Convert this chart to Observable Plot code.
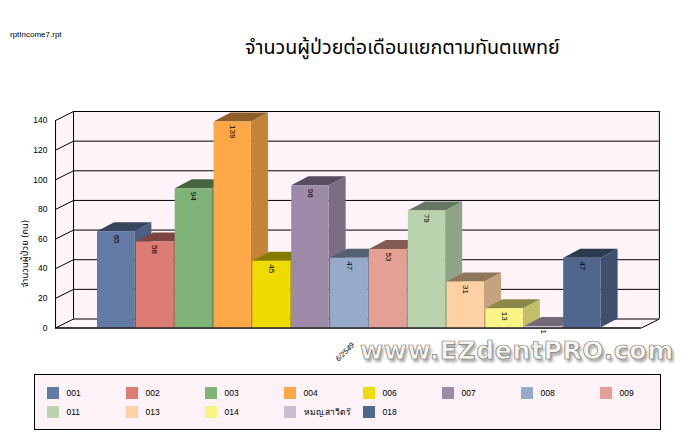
<!DOCTYPE html>
<html><head><meta charset="utf-8">
<script src="https://cdn.jsdelivr.net/npm/d3@7"></script>
<script src="https://cdn.jsdelivr.net/npm/@observablehq/plot@0.6"></script>
<style>
html,body{margin:0;padding:0;background:#fff;width:695px;height:448px;overflow:hidden;font-family:"Liberation Sans",Arial,sans-serif}
#head{position:relative;height:90px}
#file{position:absolute;left:10px;top:30px;font-size:8px;color:#000}
#title{position:absolute;left:245px;top:33px;width:316px;white-space:nowrap;font-size:19.7px;color:#000;font-family:"Noto Sans","Noto Sans Thai","DejaVu Sans",sans-serif}
#chart{height:280px}
#chart svg{display:block}
#mark{position:absolute;left:360px;top:336px;font:bold 25px "DejaVu Sans",sans-serif;letter-spacing:.65px;white-space:nowrap;color:#f6f5f0;-webkit-text-stroke:.7px #7d7d78;text-shadow:2px 3px 3px #a5a5a5}
#legend{box-sizing:border-box;margin:4px 0 0 34px;width:627px;height:56px;border:1px solid #000;background:#fdf2f8;padding:12px 0 0 11.5px;display:grid;grid-template-columns:repeat(8,79px);grid-auto-rows:19px;font-size:8.5px;color:#000}
#legend div{display:flex;align-items:center;height:12px}
#legend i{display:block;width:12px;height:12px;margin-right:8px;flex:none}
</style></head><body>
<div id="head"><div id="file">rptIncome7.rpt</div><div id="title">จำนวนผู้ป่วยต่อเดือนแยกตามทันตแพทย์</div></div>
<div id="chart"></div>
<div id="legend"></div>
<div id="mark">www.EZdentPRO.com</div>
<script>
const dentists = ["001","002","003","004","006","007","008","009","011","013","014","หมญ.สาวิตรี","018"];
const patients = [65,58,94,139,45,96,47,53,79,31,13,1,47];
const colors = ["#627aa6","#dc7c74","#7fb377","#fda847","#eedc00","#9c8aa8","#95abc9","#e5a095","#b8d3ae","#fdd1a3","#faf385","#c9bdd2","#4f678d"];
const yTicks = [0,20,40,60,80,100,120,140];
const monthLabel = "6/2549";
const yTitle = "จำนวนผู้ป่วย (คน)";

const wall = "#fdf3f8";
const barW = 0.96, dX = 0.44, dV = 6.07;
const xMin = -1.08, xMax = 14.0;
const shade = (c,k)=>{const r=d3.rgb(c);return d3.rgb(r.r*k,r.g*k,r.b*k).formatHex();};

const backX1 = xMin+0.463, backX2 = xMax+0.463, yMax = 140;
const marks = [
  // walls and floor
  Plot.rectY([0],{x1:backX1,x2:backX2,y1:dV,y2:yMax+dV,fill:wall}),
  Plot.areaY([[xMin,0,yMax],[backX1,dV,yMax+dV]],{x:d=>d[0],y1:d=>d[1],y2:d=>d[2],fill:wall}),
  Plot.areaX([[0,xMin,xMax],[dV,backX1,backX2]],{y:d=>d[0],x1:d=>d[1],x2:d=>d[2],fill:wall}),
  // grid
  Plot.ruleY(yTicks.concat(),{y:d=>d+dV,x1:backX1,x2:backX2,stroke:"#000",strokeWidth:1}),
  Plot.link(yTicks,{x1:xMin,x2:backX1,y1:d=>d,y2:d=>d+dV,stroke:"#000",strokeWidth:1}),
  Plot.ruleX([xMin],{y1:0,y2:yMax,stroke:"#000"}),
  Plot.ruleX([backX1,backX2],{y1:dV,y2:yMax+dV,stroke:"#000"}),
  Plot.ruleY([0],{x1:xMin,x2:xMax,stroke:"#000"}),
  Plot.link([0],{x1:xMax,x2:backX2,y1:0,y2:dV,stroke:"#000"}),
];
// bars, painted left to right
patients.forEach((v,i)=>{
  const c = colors[i], a = i, b = i+barW;
  marks.push(
    Plot.areaY([[b,0,v],[b+dX,dV,v+dV]],{x:d=>d[0],y1:d=>d[1],y2:d=>d[2],fill:shade(c,0.78)}),
    Plot.areaX([[v,a,b],[v+dV,a+dX,b+dX]],{y:d=>d[0],x1:d=>d[1],x2:d=>d[2],fill:shade(c,0.56)}),
    Plot.rectY([v],{x1:a,x2:b,y1:0,y2:d=>d,fill:c})
  );
});
marks.push(
  Plot.ruleY([0],{x1:xMin,x2:xMax,stroke:"#000"}),
  Plot.text(patients,{x:(d,i)=>i+barW/2,y:d=>d,text:d=>String(d),rotate:90,textAnchor:"start",dy:3,fontSize:8,fill:"#000"}),
  Plot.text(yTicks,{x:xMin,y:d=>d,text:d=>String(d),textAnchor:"end",dx:-8,fontSize:8.5,fill:"#000"}),
  Plot.text([yTitle],{x:xMin,y:50,text:d=>d,rotate:-90,dx:-31,fontSize:9.5,fill:"#000",fontFamily:"Noto Sans, Noto Sans Thai, DejaVu Sans, sans-serif"}),
  Plot.text([monthLabel],{x:6.37,y:0,text:d=>d,rotate:-45,dy:24,fontSize:7.5,fontStyle:"italic",fill:"#000"})
);
const unit = 38.85;
const svg = Plot.plot({
  width:695,height:280,
  x:{type:"linear",domain:[0,13],range:[97,97+13*unit],axis:null},
  y:{type:"linear",domain:[0,140],range:[237.5,30],axis:null},
  style:{background:"transparent",fontFamily:"Liberation Sans, Arial, sans-serif",overflow:"visible"},
  marks
});
document.getElementById("chart").append(svg);
const lg = document.getElementById("legend");
dentists.forEach((d,i)=>{
  const e=document.createElement("div");
  const s=document.createElement("i");s.style.background=colors[i];
  e.append(s,document.createTextNode(d));lg.append(e);
});
</script>
</body></html>
